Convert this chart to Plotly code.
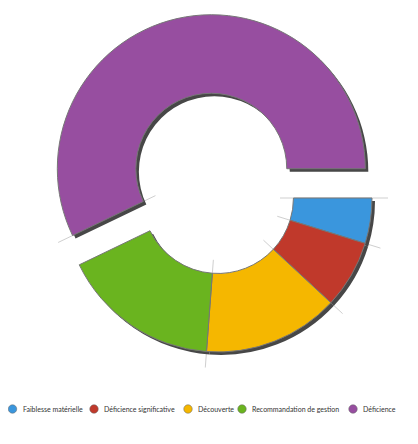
import math
import plotly.graph_objects as go

labels = ["Faiblesse matérielle", "Déficience significative", "Découverte",
          "Recommandation de gestion", "Déficience"]
values = [2, 3, 6, 7, 24]
colors = ["#3a96dd", "#c0392b", "#f5b700", "#6ab41f", "#974ea0"]
pulls = [0, 0, 0, 0, 0.195]

# page has an 8px body margin; work in page pixels and shift
OFF = 8
W, H = 402, 428
CX, CY, R = 218 - OFF, 198 - OFF, 154
HOLE = 0.49
SHADOW = 3

maxpull = max(pulls)
half = R * (1 + maxpull)


def dom(cx, cy):
    return dict(x=[(cx - half) / W, (cx + half) / W],
                y=[(H - (cy + half)) / H, (H - (cy - half)) / H])


fig = go.Figure()

# guide lines at each slice start edge (computed from data)
total = sum(values)
ang = math.pi / 2
shapes = []
for v, p in zip(values, pulls):
    span = 2 * math.pi * v / total
    mid = ang + span / 2
    ox = p * R * math.sin(mid)
    oy = -p * R * math.cos(mid)
    r0, r1 = 62, 170
    x0 = CX + ox + r0 * math.sin(ang)
    y0 = CY + oy - r0 * math.cos(ang)
    x1 = CX + ox + r1 * math.sin(ang)
    y1 = CY + oy - r1 * math.cos(ang)
    shapes.append(dict(type="line", xref="x", yref="y", x0=x0, y0=y0, x1=x1, y1=y1,
                       line=dict(color="#cfcfcf", width=1), layer="below"))
    ang += span

# shadow pie
fig.add_trace(go.Pie(values=values, labels=labels, pull=pulls, hole=HOLE,
                     sort=False, direction="clockwise", rotation=90,
                     marker=dict(colors=["#474747"] * len(values), line=dict(width=0)),
                     textinfo="none", hoverinfo="skip", showlegend=False,
                     domain=dom(CX + SHADOW, CY + SHADOW)))
# main pie
fig.add_trace(go.Pie(values=values, labels=labels, pull=pulls, hole=HOLE,
                     sort=False, direction="clockwise", rotation=90,
                     marker=dict(colors=colors, line=dict(color="#777777", width=1)),
                     textinfo="none", showlegend=False,
                     domain=dom(CX, CY)))

# custom legend
leg_x = [x - OFF for x in [12.5, 94, 188, 242, 353]]
leg_y = 409 - OFF
fig.add_trace(go.Scatter(x=leg_x, y=[leg_y] * len(leg_x), mode="markers",
                         marker=dict(size=8.5, color=colors, line=dict(color="#666", width=0.5)),
                         showlegend=False, hoverinfo="skip", cliponaxis=False))
annotations = []
for lx, lab in zip(leg_x, labels):
    annotations.append(dict(x=lx + 8, y=leg_y, xref="x", yref="y", text=lab,
                            showarrow=False, xanchor="left", yanchor="middle",
                            font=dict(family="Lato, Open Sans, sans-serif", size=7, color="#333")))

fig.update_layout(
    width=W, height=H,
    margin=dict(l=0, r=0, t=0, b=0),
    paper_bgcolor="white", plot_bgcolor="rgba(0,0,0,0)",
    xaxis=dict(range=[0, W], visible=False, fixedrange=True),
    yaxis=dict(range=[H, 0], visible=False, fixedrange=True),
    shapes=shapes, annotations=annotations,
    showlegend=False,
)
fig.write_html("out.html")
